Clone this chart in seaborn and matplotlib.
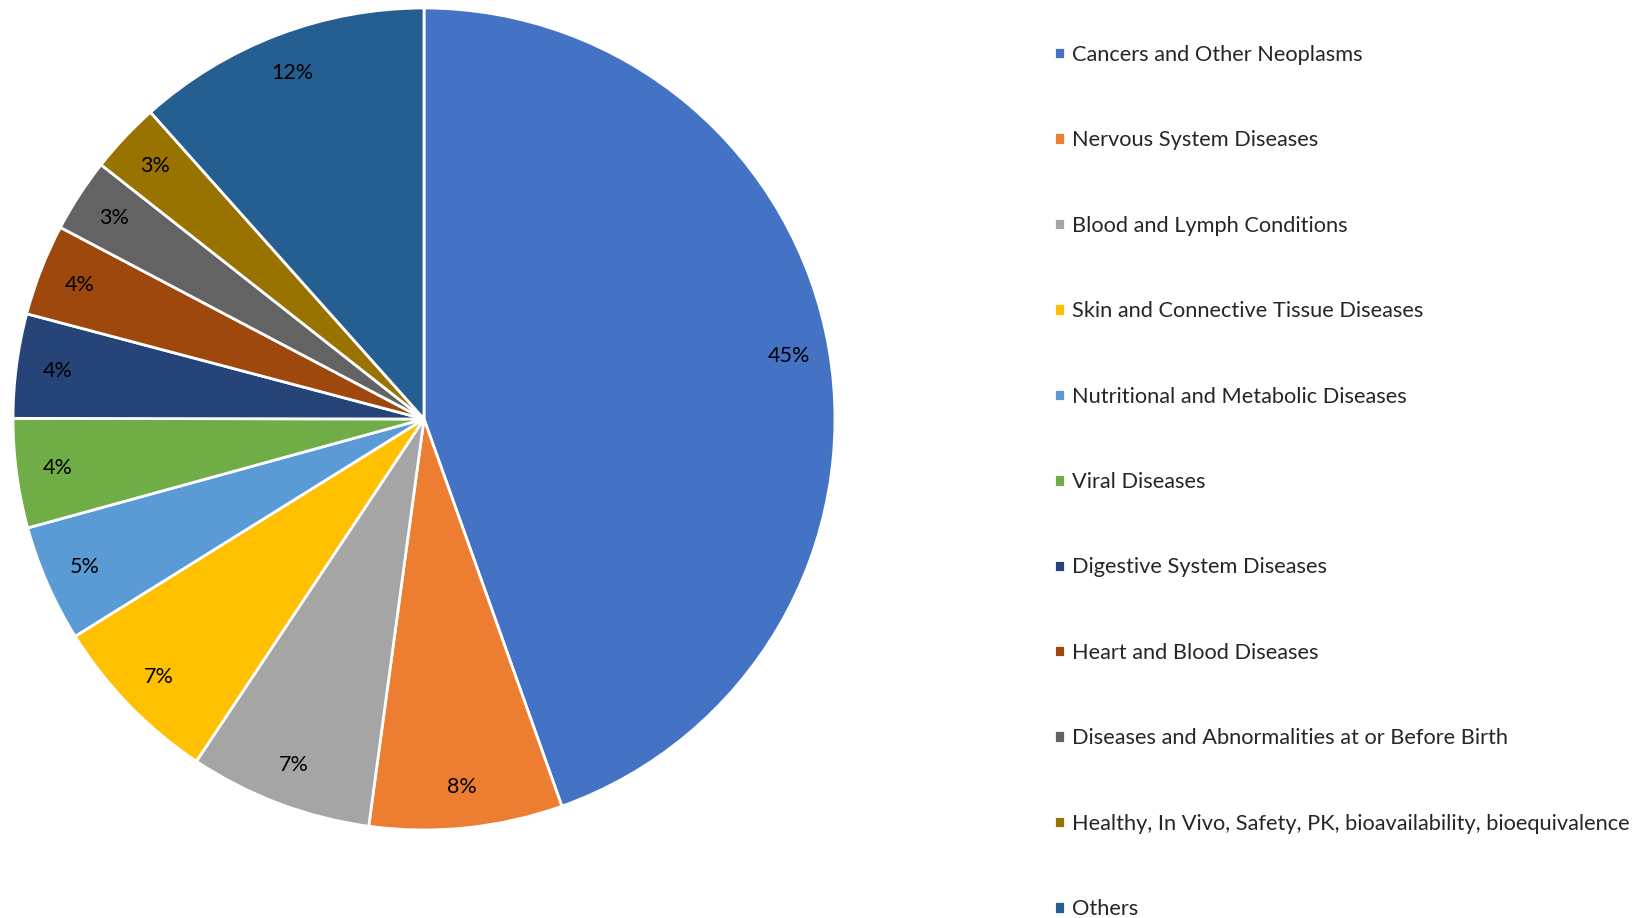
import numpy as np
import seaborn as sns
import matplotlib.pyplot as plt

categories = [
    "Cancers and Other Neoplasms",
    "Nervous System Diseases",
    "Blood and Lymph Conditions",
    "Skin and Connective Tissue Diseases",
    "Nutritional and Metabolic Diseases",
    "Viral Diseases",
    "Digestive System Diseases",
    "Heart and Blood Diseases",
    "Diseases and Abnormalities at or Before Birth",
    "Healthy, In Vivo, Safety, PK, bioavailability, bioequivalence",
    "Others",
]
shares = [44.6, 7.6, 7.2, 6.8, 4.6, 4.3, 4.1, 3.6, 2.9, 2.8, 11.6]
colors = ["#4472C4", "#ED7D31", "#A5A5A5", "#FFC000", "#5B9BD5", "#70AD47",
          "#264478", "#9E480E", "#636363", "#997300", "#255E91"]

sns.set_theme(style="white")
plt.rcParams['font.family'] = ['Lato', 'DejaVu Sans']

fig = plt.figure(figsize=(16.44, 9.18), dpi=100)
ax = fig.add_axes([13 / 1644, 1 - 830 / 918, 822 / 1644, 822 / 918])

palette = sns.color_palette(colors)
wedges, texts, autotexts = ax.pie(
    shares, colors=palette, startangle=90, counterclock=False,
    autopct=lambda p: f"{p:.0f}%", pctdistance=0.9,
    wedgeprops=dict(edgecolor="white", linewidth=2),
    textprops=dict(fontsize=15.5, color="black"),
)
ax.set_xlim(-1, 1)
ax.set_ylim(-1, 1)
ax.set_aspect("equal")
ax.axis("off")

fig.legend(wedges, categories, loc="upper left",
           bbox_to_anchor=(1054 / 1644, 1 - 45 / 918),
           frameon=False, fontsize=15.7, handlelength=0.5, handleheight=0.5,
           handletextpad=0.33, labelspacing=3.0, borderaxespad=0, borderpad=0)

fig.savefig("out.png", dpi=100)
